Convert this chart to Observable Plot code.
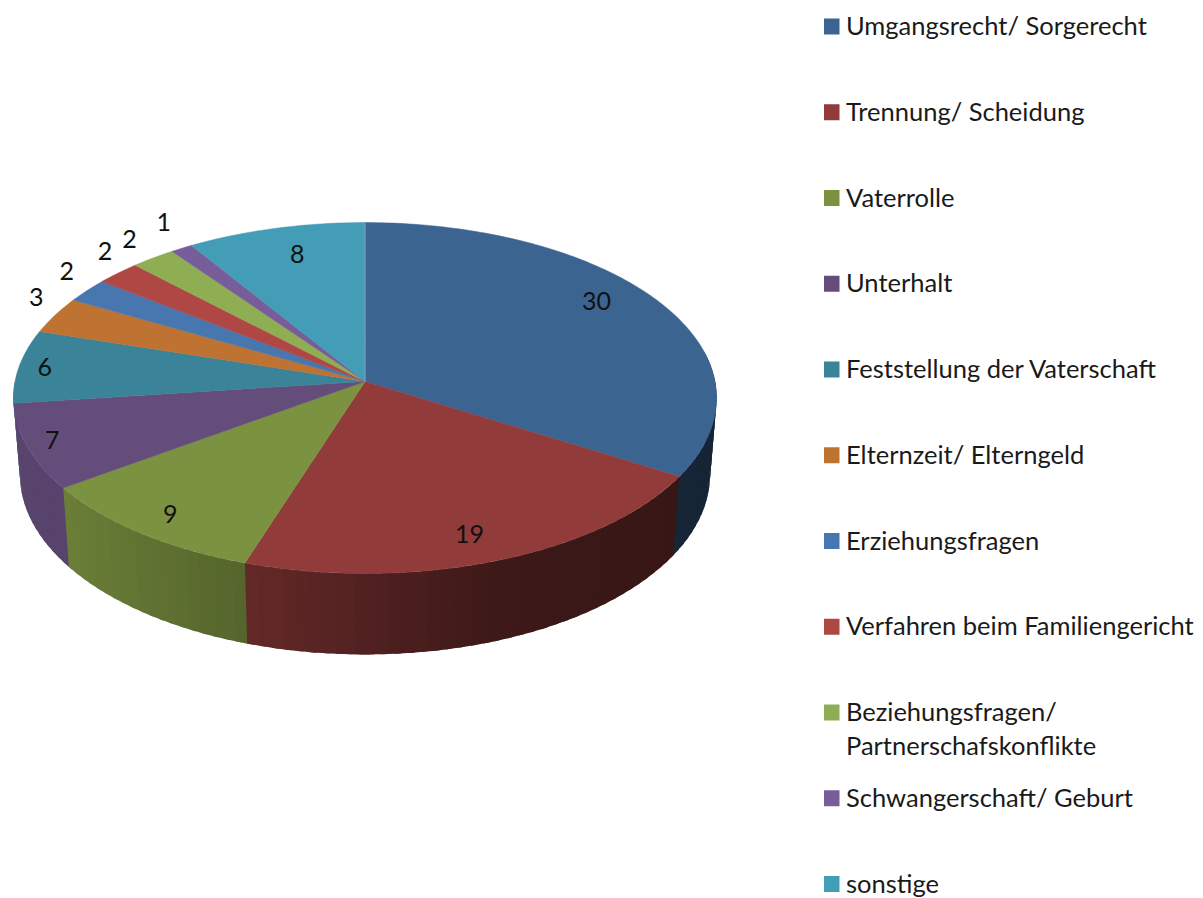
<!DOCTYPE html>
<html>
<head>
<meta charset="utf-8">
<script src="https://cdn.jsdelivr.net/npm/d3@7"></script>
<script src="https://cdn.jsdelivr.net/npm/@observablehq/plot@0.6"></script>
<style>
html,body{margin:0;padding:0;background:#fff}
svg{display:block}
</style>
</head>
<body>
<div id="chart"></div>
<script>
// Data
const categories = ["Umgangsrecht/ Sorgerecht","Trennung/ Scheidung","Vaterrolle","Unterhalt","Feststellung der Vaterschaft","Elternzeit/ Elterngeld","Erziehungsfragen","Verfahren beim Familiengericht","Beziehungsfragen/\nPartnerschafskonflikte","Schwangerschaft/ Geburt","sonstige"];
const values = [30,19,9,7,6,3,2,2,2,1,8];
const colors = ["#3c6491","#913b3a","#7b9240","#644d7b","#3a8399","#be7333","#4876ae","#af4745","#8fad53","#775d99","#449db7"];
// label placement: radius in pie units plus a small pixel nudge
const labelRadius = [.8,.88,.88,.92,.92,1.1,1.1,1.1,1.1,1.1,.8];
const labelNudgeX = [-4,-11,1,-3,-2,11,6,10,-4,-1,5];
const labelNudgeY = [-14,-2,2,0,0,-11,-10,-11,-7,-13,-2];

// Pie geometry (perspective projection of a disc)
const W = 1203, H = 898;
const cx = 364.5, cy = 381, depthC = 0.094, A = 173.9, D = 350;
const topPoint = (deg, r = 1) => {
  const t = deg * Math.PI / 180, u = r * Math.sin(t), v = r * Math.cos(t), w = 1 + depthC * v;
  return [cx + D * u / w, cy - A * v / w];
};
const bottomPoint = (deg) => {
  const [x, y] = topPoint(deg);
  return [cx + (x - cx) * 345 / 351.5, 474 + (y - 397.5) * 180 / 175.5];
};
const shadeAt = d3.scaleLinear().domain([20,65,245,400,500,676,710]).range([.88,.87,.69,.52,.42,.38,.36]).clamp(true);
const shade = (c, f) => { const k = d3.rgb(c); return d3.rgb(k.r*f, k.g*f, k.b*f).formatHex(); };

const total = d3.sum(values);
const cum = d3.cumsum(values);
const slices = values.map((v,i) => ({i, v, a0:(cum[i]-v)/total*360, a1:cum[i]/total*360, color:colors[i]}));

// top faces
const facePts = slices.flatMap(s => {
  const n = Math.max(2, Math.ceil((s.a1-s.a0)));
  const arc = d3.range(n+1).map(k => topPoint(s.a0 + (s.a1-s.a0)*k/n));
  return [[cx,cy],...arc].map(([x,y]) => ({x,y,key:s.i,color:s.color}));
});
// rim strips, painted far to near; each runs on under its nearer neighbour so no seams show
const rimFrom = 80, rimTo = 270, stripStep = 2, overlap = 1;
let strips = [];
slices.forEach(s => {
  const lo = Math.max(s.a0, rimFrom), hi = Math.min(s.a1, rimTo);
  if (hi <= lo) return;
  const n = Math.ceil((hi-lo)/stripStep);
  for (let k=0;k<n;k++){
    const a = lo+(hi-lo)*k/n, b = lo+(hi-lo)*(k+1)/n;
    const mx = bottomPoint((a+b)/2)[0];
    const mid = (a+b)/2;
    const a2 = mid < 180 ? a : a - overlap;
    const b2 = mid < 180 ? b + overlap : b;
    strips.push({a:a2,b:b2,mid,color:shade(s.color, shadeAt(mx))});
  }
});
strips.sort((p,q)=>Math.abs(q.mid-180)-Math.abs(p.mid-180));
const rimPts = strips.flatMap((s,j)=>{
  const steps = d3.range(4).map(k => s.a+(s.b-s.a)*k/3);
  return [...steps.map(d => topPoint(d)), ...steps.slice().reverse().map(d => bottomPoint(d))].map(([x,y])=>({x,y,key:j,color:s.color}));
});

// value labels
const labelRows = slices.map(s => {
  const [x,y] = topPoint((s.a0+s.a1)/2, labelRadius[s.i]);
  return {x:x+labelNudgeX[s.i], y:y+labelNudgeY[s.i], text:String(s.v)};
});

// legend
const legX = 824, legTextX = 845.5, legY0 = 26.5, legStep = 85.75, legLine = 34;
const legendSquares = categories.map((c,i)=>({i,y:legY0+i*legStep,color:colors[i]}));
const legendLines = categories.flatMap((c,i)=>c.split("\n").map((t,j)=>({t,y:legY0+i*legStep+j*legLine})));

const font = "Lato, 'Open Sans', sans-serif";
const plot = Plot.plot({
  width:W, height:H, margin:0,
  x:{domain:[0,W],range:[0,W],axis:null},
  y:{domain:[0,H],range:[0,H],axis:null},
  color:{type:"identity"},
  style:{background:"#fff",fontFamily:font},
  marks:[
    Plot.line(rimPts,{x:"x",y:"y",z:"key",fill:"color",stroke:"none",curve:"linear-closed"}),
    Plot.line(facePts,{x:"x",y:"y",z:"key",fill:"color",stroke:"color",strokeWidth:.5,curve:"linear-closed"}),
    Plot.line([topPoint(0),[cx,cy]].map(([x,y])=>({x,y})),{x:"x",y:"y",stroke:"#7f9bbd",strokeWidth:1}),
    Plot.text(labelRows,{x:"x",y:"y",text:"text",fontSize:25,fill:"#111"}),
    Plot.rect(legendSquares,{x1:()=>legX,x2:()=>legX+15.5,y1:d=>d.y-8,y2:d=>d.y+8,fill:"color"}),
    Plot.text(legendLines,{x:()=>legTextX,y:"y",text:"t",textAnchor:"start",fontSize:25.5,fill:"#1a1a1a"})
  ]
});
document.getElementById("chart").appendChild(plot);
</script>
</body>
</html>
